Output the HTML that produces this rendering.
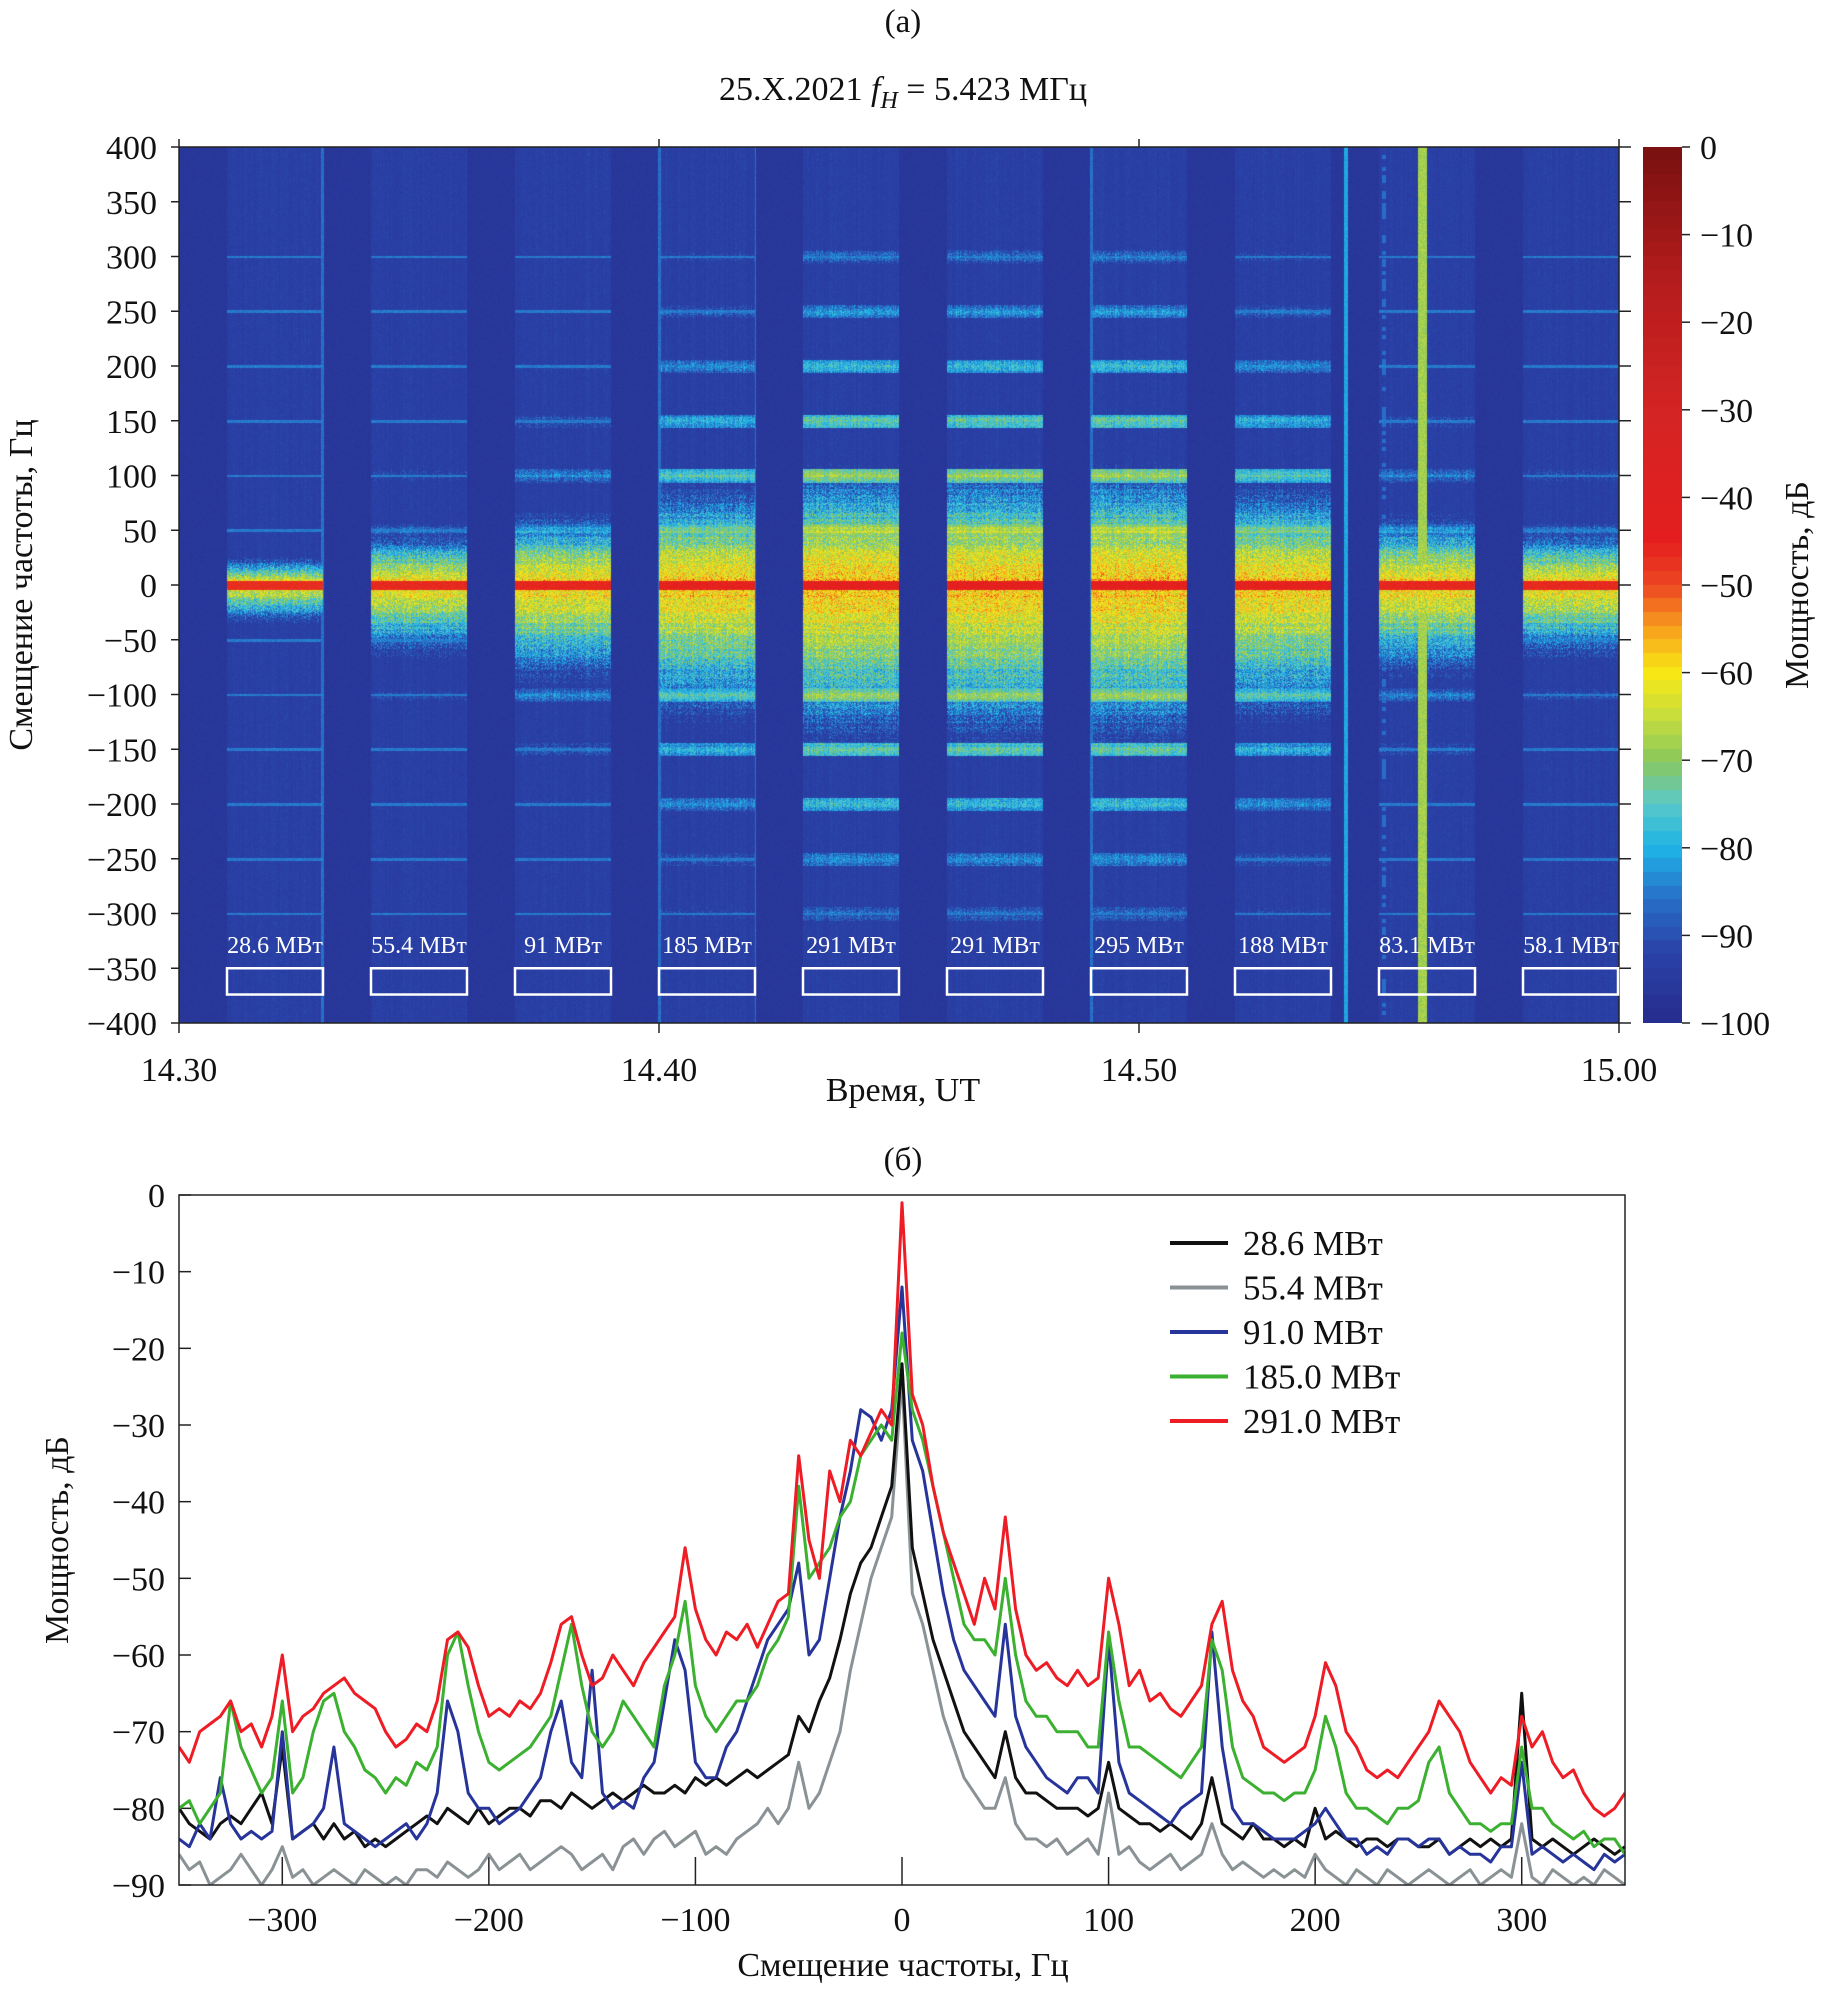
<!DOCTYPE html>
<html><head><meta charset="utf-8">
<style>
html,body{margin:0;padding:0;background:#fff;}
#root{position:relative;width:1828px;height:1989px;overflow:hidden;font-family:"Liberation Serif",serif;}
canvas{position:absolute;}
svg{position:absolute;left:0;top:0;}
svg text{font-family:"Liberation Serif",serif;fill:#111;}
</style></head>
<body>
<div id="root">
<canvas id="spec" width="1440" height="876" style="left:179px;top:147px"></canvas>
<canvas id="cbar" width="39" height="876" style="left:1643px;top:147px"></canvas>
<svg id="ov" width="1828" height="1989" font-family="Liberation Serif, serif"></svg>
</div>
<script>
// ---------- data: spectrogram ----------
const segStart = [1,4,7,10,13,16,19,22,25,28];
const segEnd   = [3,6,9,12,15,18,21,24,27,30];
const segPower = [28.6,55.4,91,185,291,291,295,188,83.1,58.1];
const segLabels = ["28.6 МВт","55.4 МВт","91 МВт","185 МВт","291 МВт","291 МВт","295 МВт","188 МВт","83.1 МВт","58.1 МВт"];
const harmonics = [50,100,150,200,250,300];
const timeTicks = [0,10,20,30];
const timeTickLabels = ["14.30","14.40","14.50","15.00"];
const freqTicks = [400,350,300,250,200,150,100,50,0,-50,-100,-150,-200,-250,-300,-350,-400];
const cbarTicks = [0,-10,-20,-30,-40,-50,-60,-70,-80,-90,-100];
// ---------- data: spectra (5 Hz steps, -350..350) ----------
const specFreqStart = -350, specFreqStep = 5;
const seriesNames = ["28.6 МВт","55.4 МВт","91.0 МВт","185.0 МВт","291.0 МВт"];
const s286 = [-80,-82,-83,-84,-82,-81,-82,-80,-78,-82,-72,
-84,-83,-82,-84,-82,-84,-83,-85,-84,-85,
-84,-83,-82,-81,-82,-80,-81,-82,-80,-82,
-81,-80,-80,-81,-79,-79,-80,-78,-79,-80,
-79,-78,-79,-78,-77,-78,-78,-77,-78,-76,
-77,-76,-77,-76,-75,-76,-75,-74,-73,-68,
-70,-66,-63,-58,-52,-48,-46,-42,-38,-22,
-46,-52,-58,-62,-66,-70,-72,-74,-76,-70,
-76,-78,-78,-79,-80,-80,-80,-81,-80,-74,
-80,-81,-82,-82,-83,-82,-83,-84,-82,-76,
-82,-83,-84,-82,-84,-84,-85,-84,-85,-80,
-84,-83,-84,-85,-84,-84,-85,-84,-84,-85,
-85,-84,-86,-85,-84,-85,-84,-85,-84,-65,
-84,-85,-84,-85,-86,-85,-84,-85,-86,-85];
const s554 = [-86,-88,-87,-90,-89,-88,-86,-88,-90,-88,-85,
-89,-88,-90,-89,-88,-89,-90,-88,-89,-90,
-89,-90,-88,-88,-89,-87,-88,-89,-88,-86,
-88,-87,-86,-88,-87,-86,-85,-86,-88,-87,
-86,-88,-85,-84,-86,-84,-83,-85,-84,-83,
-86,-85,-86,-84,-83,-82,-80,-82,-80,-74,
-80,-78,-74,-70,-62,-56,-50,-46,-42,-24,
-52,-56,-62,-68,-72,-76,-78,-80,-80,-76,
-82,-84,-84,-85,-84,-86,-85,-84,-86,-78,
-86,-85,-87,-88,-87,-86,-88,-87,-86,-82,
-86,-88,-87,-88,-89,-88,-89,-88,-89,-86,
-88,-89,-90,-88,-89,-90,-88,-89,-90,-89,
-88,-89,-90,-89,-88,-90,-89,-88,-89,-82,
-89,-90,-88,-89,-90,-89,-90,-88,-89,-90];
const s910 = [-84,-85,-82,-84,-76,-82,-84,-83,-84,-83,-70,
-84,-83,-82,-80,-72,-82,-83,-84,-85,-84,
-83,-82,-84,-82,-78,-66,-70,-78,-80,-80,
-82,-81,-80,-78,-76,-70,-66,-74,-76,-62,
-78,-80,-79,-80,-76,-74,-66,-58,-62,-74,
-76,-76,-72,-70,-66,-62,-58,-56,-54,-48,
-60,-58,-50,-42,-36,-28,-29,-32,-28,-12,
-32,-36,-44,-52,-58,-62,-64,-66,-68,-56,
-68,-72,-74,-76,-77,-78,-76,-76,-78,-58,
-74,-78,-79,-80,-81,-82,-80,-79,-78,-57,
-72,-80,-82,-82,-83,-84,-84,-84,-83,-82,
-80,-82,-84,-84,-86,-85,-86,-84,-84,-85,
-84,-84,-86,-85,-86,-86,-87,-85,-85,-74,
-86,-85,-86,-87,-86,-87,-88,-86,-87,-86];
const s1850 = [-80,-79,-82,-80,-78,-66,-72,-75,-78,-76,-66,
-78,-76,-70,-66,-65,-70,-72,-75,-76,-78,
-76,-77,-74,-75,-72,-60,-57,-64,-70,-74,
-75,-74,-73,-72,-70,-68,-62,-56,-64,-70,
-72,-70,-66,-68,-70,-72,-64,-60,-53,-64,
-68,-70,-68,-66,-66,-64,-60,-58,-55,-38,
-50,-48,-46,-42,-40,-34,-32,-30,-32,-18,
-28,-32,-38,-44,-50,-56,-58,-58,-60,-50,
-60,-66,-68,-68,-70,-70,-70,-72,-72,-57,
-66,-72,-72,-73,-74,-75,-76,-74,-72,-58,
-62,-72,-76,-77,-78,-78,-79,-78,-78,-75,
-68,-72,-78,-80,-80,-81,-82,-80,-80,-79,
-74,-72,-78,-80,-82,-82,-83,-82,-82,-72,
-80,-80,-82,-83,-84,-83,-85,-84,-84,-86];
const s2910 = [-72,-74,-70,-69,-68,-66,-70,-69,-72,-68,-60,
-70,-68,-67,-65,-64,-63,-65,-66,-67,-70,
-72,-71,-69,-70,-66,-58,-57,-59,-64,-68,
-67,-68,-66,-67,-65,-61,-56,-55,-60,-64,
-63,-60,-62,-64,-61,-59,-57,-55,-46,-54,
-58,-60,-57,-58,-56,-59,-56,-53,-52,-34,
-45,-50,-36,-40,-32,-34,-31,-28,-30,-1,
-26,-30,-38,-44,-48,-52,-56,-50,-54,-42,
-54,-60,-62,-61,-63,-64,-62,-64,-63,-50,
-56,-64,-62,-66,-65,-67,-68,-66,-64,-56,
-53,-62,-66,-68,-72,-73,-74,-73,-72,-68,
-61,-64,-70,-72,-75,-76,-75,-76,-74,-72,
-70,-66,-68,-70,-74,-76,-78,-76,-77,-68,
-72,-70,-74,-76,-75,-78,-80,-81,-80,-78];
const specXTicks = [-300,-200,-100,0,100,200,300];
const specYTicks = [0,-10,-20,-30,-40,-50,-60,-70,-80,-90];

// ---------- layout ----------
const T = {x0:179,x1:1619,y0:147,y1:1023};
const B = {x0:179,x1:1625,y0:1195,y1:1885};
const tx = t => T.x0 + t/30*(T.x1-T.x0);
const fy = f => T.y0 + (400-f)/800*(T.y1-T.y0);
const bx = f => B.x0 + (f+350)/700*(B.x1-B.x0);
const by = d => B.y0 + (-d)/90*(B.y1-B.y0);

const cmStops = [[-100,[38,44,140]],[-92,[42,66,168]],[-86,[40,110,200]],[-80,[30,180,230]],[-75,[90,200,200]],[-70,[140,200,90]],[-65,[200,222,60]],[-60,[248,232,20]],[-55,[248,160,30]],[-50,[236,70,34]],[-45,[228,30,30]],[-30,[212,36,36]],[-15,[180,28,28]],[0,[120,16,16]]];
function cmap(v){
  if(v<=-100) return cmStops[0][1];
  for(let i=1;i<cmStops.length;i++){
    if(v<=cmStops[i][0]){const a=cmStops[i-1],b=cmStops[i];const k=(v-a[0])/(b[0]-a[0]);
      return [a[1][0]+(b[1][0]-a[1][0])*k,a[1][1]+(b[1][1]-a[1][1])*k,a[1][2]+(b[1][2]-a[1][2])*k];}
  }
  return cmStops[cmStops.length-1][1];
}
function hash(a,b){let h=(a*374761393+b*668265263)|0;h=(h^(h>>>13))*1274126177|0;return ((h^(h>>>16))>>>0)/4294967296;}

(function(){
  const c=document.getElementById('spec'),ctx=c.getContext('2d');
  const W=c.width,H=c.height,img=ctx.createImageData(W,H),d=img.data;
  for(let x=0;x<W;x++){
    const t=x/W*30;
    let si=-1;for(let s=0;s<segStart.length;s++){if(t>=segStart[s]&&t<segEnd[s])si=s;}
    const colMod=(hash(x,7)-0.5)*4;
    const g=si>=0?Math.max(0,Math.min(1.05,Math.log(segPower[si]/28.6)/Math.log(10.2))):0;
    for(let y=0;y<H;y++){
      const f=400-y/H*800, af=Math.abs(f);
      const n=(hash(x,y)-0.5);
      const rowMod=(hash(7,y>>1)-0.5)*4;
      let v=-93+n*3+colMod*0.4;
      if(si<0) v=-96+n*2;
      if(si>=0){
        const Wd=(18+55*g)*(f<0?1.35:1);
        const dd=af/Wd;
        let vd=-57-3*(1-g)-24*Math.pow(dd,1.2)+n*14+colMod+rowMod;
        if(af<4) vd=Math.max(vd,-47+g*2+n*2);
        v=Math.max(v,vd);
        for(const h of harmonics){
          const dh=Math.abs(af-h);
          if(dh<6){
            const vb=-61-h/50*4.2-(1-g)*30+n*10-dh*0.9+colMod+rowMod;
            v=Math.max(v,vb);
          }
          if(dh<1.2) v=Math.max(v,-85+n*3);
        }
      }
      if(Math.abs(t-25.9)<0.09) v=Math.max(v,-68+n*5);
      if(Math.abs(t-24.3)<0.035) v=Math.max(v,-81+n*3);
      if(Math.abs(t-25.1)<0.04 && hash(y>>2,3)>0.6) v=Math.max(v,-86);
      if((Math.abs(t-2.98)<0.03||Math.abs(t-10)<0.03||Math.abs(t-19)<0.03||Math.abs(t-12)<0.02)) v=Math.max(v,-86+n*3);
      const col=cmap(v),i=(y*W+x)*4;
      d[i]=col[0];d[i+1]=col[1];d[i+2]=col[2];d[i+3]=255;
    }
  }
  ctx.putImageData(img,0,0);
})();
(function(){
  const c=document.getElementById('cbar'),ctx=c.getContext('2d');
  const steps=64;
  for(let i=0;i<steps;i++){
    const v=-(i+0.5)/steps*100;const col=cmap(v);
    ctx.fillStyle='rgb('+col.map(Math.round).join(',')+')';
    const y0=Math.floor(i/steps*c.height),y1=Math.ceil((i+1)/steps*c.height);
    ctx.fillRect(0,y0,c.width,y1-y0);
  }
})();

const svg=document.getElementById('ov');const NS='http://www.w3.org/2000/svg';
function mk(tag,attrs,parent){const e=document.createElementNS(NS,tag);for(const k in attrs)e.setAttribute(k,attrs[k]);(parent||svg).appendChild(e);return e;}
function txt(s,x,y,size,anchor,parent,extra){const e=mk('text',Object.assign({x:x,y:y,'font-size':size,'text-anchor':anchor||'middle','font-family':'Liberation Serif, serif'},extra||{}),parent);e.textContent=s;return e;}
const minus=v=>v<0?'\u2212'+Math.abs(v):String(v);

let e;
e=txt('(a)',903,32,33);
e=mk('text',{x:903,y:100,'font-size':34,'text-anchor':'middle','font-family':'Liberation Serif, serif'});
e.innerHTML='25.X.2021 <tspan font-style="italic">f</tspan><tspan font-style="italic" font-size="24" dy="8">H</tspan><tspan dy="-8"> = 5.423 МГц</tspan>';


e=mk('rect',{x:T.x0,y:T.y0,width:T.x1-T.x0,height:T.y1-T.y0,fill:'none',stroke:'#222','stroke-width':1.5});

const gTY=mk('g',{});
freqTicks.forEach(f=>{const y=fy(f);
  mk('line',{x1:T.x0-8,x2:T.x0,y1:y,y2:y,stroke:'#222','stroke-width':1.5},gTY);
  mk('line',{x1:T.x1,x2:T.x1+12,y1:y,y2:y,stroke:'#222','stroke-width':1.5},gTY);
  txt(minus(f),157,y+12,34,'end',gTY);});
const gTX=mk('g',{});
timeTicks.forEach((t,i)=>{const x=tx(t);
  mk('line',{x1:x,x2:x,y1:T.y0-8,y2:T.y0,stroke:'#222','stroke-width':1.5},gTX);
  mk('line',{x1:x,x2:x,y1:T.y1,y2:T.y1+10,stroke:'#222','stroke-width':1.5},gTX);
  txt(timeTickLabels[i],x,1081,34,'middle',gTX);});
e=txt('Время, UT',903,1101,34);
e=txt('Смещение частоты, Гц',0,0,34,'middle',null,{transform:'translate(32,585) rotate(-90)'});

segStart.forEach((s,i)=>{
  const x0=tx(s),x1=Math.min(tx(segEnd[i]),T.x1-1);
  const r=mk('rect',{x:x0,y:fy(-350),width:x1-x0,height:fy(-374)-fy(-350),fill:'none',stroke:'#fff','stroke-width':2.5});
  
  const l=txt(segLabels[i],(tx(s)+tx(segEnd[i]))/2,fy(-336),24,'middle',null,{style:'fill:#fff'});
  
});
const gCB=mk('g',{});
cbarTicks.forEach(v=>{const y=T.y0+(-v)/100*(T.y1-T.y0);
  mk('line',{x1:1682,x2:1690,y1:y,y2:y,stroke:'#222','stroke-width':1.5},gCB);
  txt(minus(v),1700,y+12,34,'start',gCB);});
e=txt('Мощность, дБ',0,0,34,'middle',null,{transform:'translate(1808,585) rotate(-90)'});


e=txt('(б)',903,1170,33);
const gBY=mk('g',{});
specYTicks.forEach(v=>{const y=by(v);
  mk('line',{x1:B.x0,x2:B.x0+12,y1:y,y2:y,stroke:'#222','stroke-width':1.5},gBY);
  txt(minus(v),165,y+12,34,'end',gBY);});
const gBX=mk('g',{});
specXTicks.forEach(v=>{const x=bx(v);
  mk('line',{x1:x,x2:x,y1:B.y1,y2:B.y1-28,stroke:'#222','stroke-width':1.5},gBX);
  txt(minus(v),x,1931,34,'middle',gBX);});
e=txt('Смещение частоты, Гц',903,1976,34);
e=txt('Мощность, дБ',0,0,34,'middle',null,{transform:'translate(68,1540) rotate(-90)'});


const series=[s286,s554,s910,s1850,s2910];
const colors=['#111111','#8a9296','#27349a','#3cb030','#ee1c24'];
const drawOrder=[1,0,2,3,4];
const seriesKeys=['series-28-6','series-55-4','series-91-0','series-185-0','series-291-0'];
const clip=mk('clipPath',{id:'bclip'});mk('rect',{x:B.x0,y:B.y0,width:B.x1-B.x0,height:B.y1-B.y0},clip);
drawOrder.forEach(k=>{
  const pts=series[k].map((v,i)=>bx(specFreqStart+i*specFreqStep).toFixed(1)+','+by(v).toFixed(1)).join(' ');
  const p=mk('polyline',{points:pts,fill:'none',stroke:colors[k],'stroke-width':3,'stroke-linejoin':'round','clip-path':'url(#bclip)'});
  
});
e=mk('rect',{x:B.x0,y:B.y0,width:B.x1-B.x0,height:B.y1-B.y0,fill:'none',stroke:'#222','stroke-width':1.5});

const gL=mk('g',{});
seriesNames.forEach((n,i)=>{const y=1243+i*44.5;
  const l=mk('line',{x1:1170,x2:1228,y1:y,y2:y,stroke:colors[i],'stroke-width':4},gL);
  
  const t=txt(n,1243,y+12,35,'start',gL);
  });
</script>
</body></html>
